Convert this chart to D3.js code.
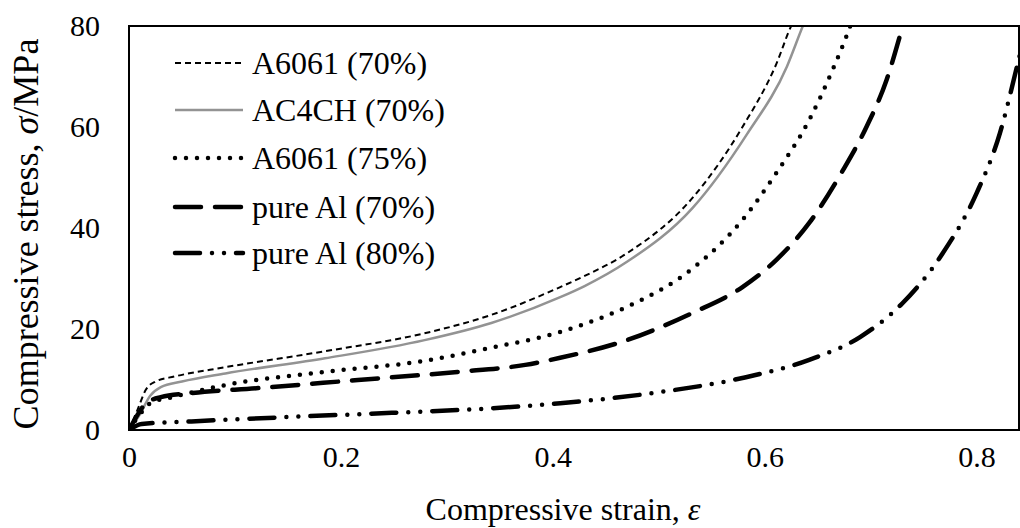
<!DOCTYPE html>
<html>
<head>
<meta charset="utf-8">
<script src="https://cdnjs.cloudflare.com/ajax/libs/d3/7.8.5/d3.min.js"></script>
<style>
  body { margin: 0; background: #fff; }
</style>
</head>
<body>
<script>
// strain / stress readings for each foam
var a6061_70 = [[0,0],[0.008,4],[0.016,8],[0.025,9.6],[0.043,10.6],[0.09,12.4],[0.185,15.6],[0.28,19.2],[0.342,22.8],[0.407,28.3],[0.43,30.5],[0.47,35],[0.532,46],[0.579,60],[0.611,72.5],[0.625,80],[0.63,82]];
var ac4ch_70 = [[0,0],[0.01,3],[0.02,6.8],[0.03,8.5],[0.05,9.6],[0.091,11.2],[0.185,14.2],[0.279,17.8],[0.342,21.2],[0.407,26.3],[0.43,28.5],[0.47,33.3],[0.532,44],[0.583,58.5],[0.621,72],[0.636,80],[0.64,82]];
var a6061_75 = [[0,0],[0.01,3],[0.02,5.3],[0.043,6.6],[0.091,8.9],[0.185,11.5],[0.279,13.7],[0.342,16.3],[0.407,19.4],[0.43,21],[0.47,24.4],[0.532,32],[0.579,41.6],[0.611,50.9],[0.642,61.4],[0.664,71.3],[0.68,79.6],[0.684,82]];
var pureAl_70 = [[0,0],[0.008,3],[0.016,5.3],[0.03,6.5],[0.059,7.3],[0.122,8.3],[0.216,9.9],[0.31,11.5],[0.374,12.9],[0.407,14.3],[0.47,17.8],[0.532,23.2],[0.579,28.3],[0.611,33.7],[0.642,41],[0.674,51.5],[0.696,60],[0.715,69.3],[0.73,79.8],[0.733,82]];
var pureAl_80 = [[0,0],[0.012,1.2],[0.059,1.7],[0.154,2.6],[0.248,3.4],[0.342,4.3],[0.407,5.3],[0.501,7.5],[0.579,10.3],[0.642,13.9],[0.69,18.4],[0.73,25.1],[0.768,35],[0.8,46.9],[0.822,58.8],[0.838,71.9],[0.845,78]];

var seriesNames = ["A6061 (70%)", "AC4CH (70%)", "A6061 (75%)", "pure Al (70%)", "pure Al (80%)"];
var xTicks = [0, 0.2, 0.4, 0.6, 0.8];
var yTicks = [0, 20, 40, 60, 80];

var serif = "'Liberation Serif', 'Times New Roman', serif";

var options = {
  width: 1020,
  height: 528,
  left: 129,
  right: 1019,
  top: 26,
  bottom: 430
};

// line looks, same order as seriesNames
var styles = [
  { color: "#000", width: 2, dash: "6,4", cap: "butt" },
  { color: "#939393", width: 2.5, dash: null, cap: "butt" },
  { color: "#000", width: 4.5, dash: "0,11", cap: "round" },
  { color: "#000", width: 4.5, dash: "26,14", cap: "round" },
  { color: "#000", width: 4.5, dash: "25,12,0,12,0,12", cap: "round" }
];
var allSeries = [a6061_70, ac4ch_70, a6061_75, pureAl_70, pureAl_80];

var svg = d3.select("body").append("svg")
  .attr("width", options.width)
  .attr("height", options.height)
  .attr("font-family", serif);

var x = d3.scaleLinear().domain([0, 0.84]).range([options.left, options.right]);
var y = d3.scaleLinear().domain([0, 80]).range([options.bottom, options.top]);

svg.append("clipPath").attr("id", "plotClip")
  .append("rect")
  .attr("x", options.left).attr("y", options.top)
  .attr("width", options.right - options.left)
  .attr("height", options.bottom - options.top);

var line = d3.line()
  .x(function(d) { return x(d[0]); })
  .y(function(d) { return y(d[1]); })
  .curve(d3.curveMonotoneX);

svg.append("g").attr("clip-path", "url(#plotClip)")
  .selectAll("path")
  .data(allSeries)
  .enter().append("path")
  .attr("d", line)
  .attr("fill", "none")
  .attr("stroke", function(d, i) { return styles[i].color; })
  .attr("stroke-width", function(d, i) { return styles[i].width; })
  .attr("stroke-dasharray", function(d, i) { return styles[i].dash; })
  .attr("stroke-linecap", function(d, i) { return styles[i].cap; })
  .attr("stroke-linejoin", "round");

// plot border
svg.append("rect")
  .attr("x", options.left).attr("y", options.top)
  .attr("width", options.right - options.left)
  .attr("height", options.bottom - options.top)
  .attr("fill", "none")
  .attr("stroke", "#000")
  .attr("stroke-width", 2);

// axes (labels only, no tick marks)
var xAxis = d3.axisBottom(x).tickValues(xTicks).tickSize(0).tickPadding(16)
  .tickFormat(function(d) { return d === 0 ? "0" : d3.format(".1f")(d); });
var gx = svg.append("g").attr("transform", "translate(0," + options.bottom + ")").call(xAxis);
gx.select(".domain").remove();
gx.attr("font-family", serif).attr("font-size", 30);
gx.selectAll("text").attr("fill", "#000");

var yAxis = d3.axisLeft(y).tickValues(yTicks).tickSize(0).tickPadding(29);
var gy = svg.append("g").attr("transform", "translate(" + options.left + ",0)").call(yAxis);
gy.select(".domain").remove();
gy.attr("font-family", serif).attr("font-size", 30);
gy.selectAll("text").attr("fill", "#000");

// axis titles
var xt = svg.append("text")
  .attr("x", 563).attr("y", 520)
  .attr("text-anchor", "middle")
  .attr("font-family", serif)
  .attr("font-size", 32);
xt.append("tspan").text("Compressive strain, ");
xt.append("tspan").attr("font-style", "italic").text("ε");

var yt = svg.append("text")
  .attr("transform", "translate(38,234) rotate(-90)")
  .attr("text-anchor", "middle")
  .attr("font-family", serif)
  .attr("font-size", 36);
yt.append("tspan").text("Compressive stress, ");
yt.append("tspan").attr("font-style", "italic").text("σ");
yt.append("tspan").text("/MPa");

// legend
var legendY = [63, 110, 158, 207, 253];
var legend = svg.append("g").selectAll("g")
  .data(seriesNames)
  .enter().append("g");

legend.append("line")
  .attr("x1", 175).attr("x2", 243)
  .attr("y1", function(d, i) { return legendY[i]; })
  .attr("y2", function(d, i) { return legendY[i]; })
  .attr("stroke", function(d, i) { return styles[i].color; })
  .attr("stroke-width", function(d, i) { return styles[i].width; })
  .attr("stroke-dasharray", function(d, i) { return styles[i].dash; })
  .attr("stroke-linecap", function(d, i) { return styles[i].cap; });

legend.append("text")
  .attr("x", 252)
  .attr("y", function(d, i) { return legendY[i]; })
  .attr("dy", "0.33em")
  .attr("font-family", serif)
  .attr("font-size", 32)
  .text(function(d) { return d; });
</script>
</body>
</html>
